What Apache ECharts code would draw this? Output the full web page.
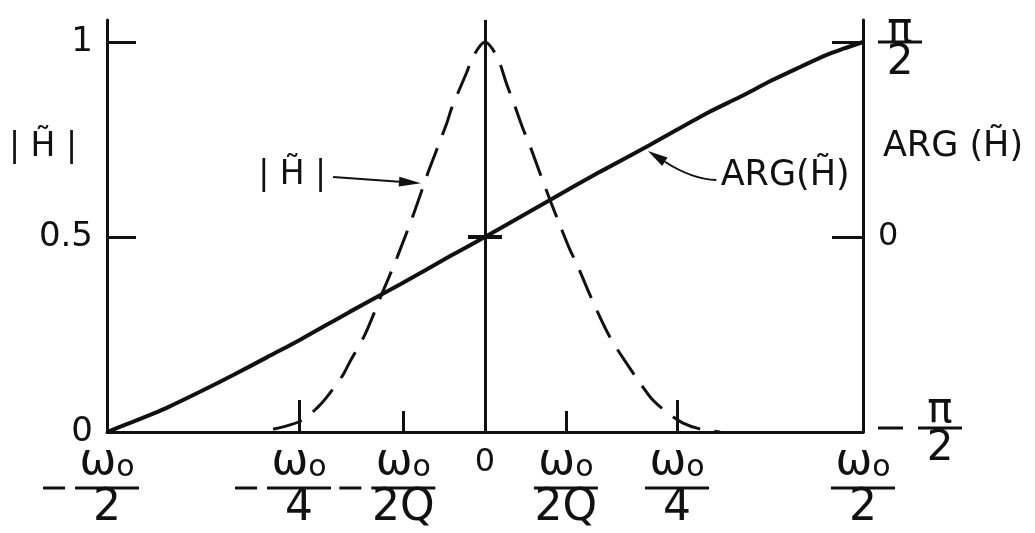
<!DOCTYPE html>
<html>
<head>
<meta charset="utf-8">
<script src="https://cdn.jsdelivr.net/npm/echarts@6/dist/echarts.min.js"></script>
<style>
  html, body { margin: 0; padding: 0; background: #ffffff; }
  #chart { width: 1035px; height: 533px; }
</style>
</head>
<body>
<div id="chart"></div>
<script>
// Frequency offset in units of ω0: the axis runs from -ω0/2 to +ω0/2.
const magFreq = [-0.298, -0.267, -0.241, -0.222, -0.209, -0.188, -0.179, -0.159, -0.136, -0.116,
  -0.095, -0.075, -0.066, -0.050, -0.044, -0.024, -0.016, 0, 0.016, 0.029, 0.040, 0.050, 0.060,
  0.073, 0.086, 0.099, 0.112, 0.122, 0.143, 0.165, 0.188, 0.205, 0.222, 0.245, 0.262, 0.284, 0.311];
// |H~| (dashed)
const magValues = [0.000, 0.013, 0.031, 0.062, 0.090, 0.146, 0.179, 0.249, 0.356, 0.449,
  0.556, 0.667, 0.713, 0.795, 0.831, 0.923, 0.962, 1.000, 0.962, 0.890, 0.833, 0.779, 0.731,
  0.662, 0.595, 0.531, 0.469, 0.428, 0.333, 0.244, 0.174, 0.126, 0.082, 0.044, 0.023, 0.008, 0.000];

const argFreq = [-0.500, -0.483, -0.466, -0.443, -0.421, -0.377, -0.333, -0.288, -0.245, -0.179,
  -0.112, -0.046, 0, 0.086, 0.152, 0.218, 0.294, 0.337, 0.381, 0.417, 0.452, 0.476, 0.500];
// ARG(H~) in units of π (solid)
const argValues = [-0.500, -0.487, -0.474, -0.456, -0.438, -0.397, -0.354, -0.308, -0.264, -0.192,
  -0.121, -0.049, 0, 0.095, 0.167, 0.236, 0.318, 0.359, 0.403, 0.436, 0.467, 0.484, 0.500];

// Frequency axis labels and tick marks
const xTickValues = [-0.5, -0.246, -0.108, 0, 0.107, 0.254, 0.5];
const xTickLabels = ['-ω0/2', '-ω0/4', '-ω0/2Q', '0', 'ω0/2Q', 'ω0/4', 'ω0/2'];
const longTickValues = [-0.246, 0.254];
const shortTickValues = [-0.108, 0.107];

// Left axis |H~|
const magTickValues = [0, 0.5, 1];
const magTickLabels = ['0', '0.5', '1'];
const magInnerTicks = [0.5, 1];

// Right axis ARG(H~), in units of π
const argTickValues = [-0.5, 0, 0.5];
const argTickLabels = ['-π/2', '0', 'π/2'];
const argInnerTicks = [0, 0.5];

const ink = '#111111';
const fam = '"DejaVu Sans", sans-serif';
const magMax = 1.0564;
const dashPattern = [30, 14];

function pick(values, labels, v) {
  let best = 0;
  values.forEach((t, i) => { if (Math.abs(t - v) < Math.abs(values[best] - v)) best = i; });
  return labels[best];
}

// Stacked fraction "ω0 over n", with an optional leading minus sign
function freqLabel(v) {
  const label = pick(xTickValues, xTickLabels, v);
  if (label === '0') return '{z|0}';
  const neg = label[0] === '-';
  const den = (neg ? label.slice(1) : label).split('/')[1];
  const mid = neg ? '{mn|}{sp|}{bar|}{sp|}{mg|}' : '{bar|}';
  return '{w|ω}{o|o}\n' + mid + '\n{d|' + den + '}';
}

function argLabel(v) {
  const label = pick(argTickValues, argTickLabels, v);
  if (label === '0') return '{z|0}';
  if (label[0] === '-') return '{pg|}{pnb|π}\n{mn|}{sp|}{bar|}\n{pg|}{pd|2}';
  return '{gap|}\n{pn|π}\n{bar|}\n{pd|2}';
}

const xRich = {
  w: { fontSize: 44, lineHeight: 44, fontFamily: fam, color: ink, align: 'center' },
  o: { fontSize: 30, lineHeight: 30, height: 34, verticalAlign: 'bottom', fontFamily: fam, color: ink, align: 'center' },
  bar: { width: 64, height: 3, lineHeight: 6, backgroundColor: ink, align: 'center' },
  mn: { width: 22, height: 3, lineHeight: 6, backgroundColor: ink, align: 'center' },
  sp: { width: 10, height: 3, lineHeight: 6, align: 'center' },
  mg: { width: 22, height: 3, lineHeight: 6, align: 'center' },
  d: { fontSize: 44, lineHeight: 36, fontFamily: fam, color: ink, align: 'center' },
  z: { fontSize: 32, lineHeight: 44, fontFamily: fam, color: ink, align: 'center' }
};

const rRich = {
  gap: { width: 44, height: 2, lineHeight: 20, align: 'center' },
  pn: { fontSize: 42, lineHeight: 16, width: 44, fontFamily: fam, color: ink, align: 'center' },
  pnb: { fontSize: 42, lineHeight: 28, width: 44, fontFamily: fam, color: ink, align: 'center' },
  pd: { fontSize: 42, lineHeight: 36, width: 44, fontFamily: fam, color: ink, align: 'center' },
  pg: { width: 40, height: 3, lineHeight: 6, align: 'center' },
  bar: { width: 44, height: 3, lineHeight: 6, backgroundColor: ink, align: 'center' },
  mn: { width: 25, height: 3, lineHeight: 6, backgroundColor: ink, align: 'center' },
  sp: { width: 15, height: 3, lineHeight: 6, align: 'center' },
  z: { fontSize: 32, lineHeight: 36, fontFamily: fam, color: ink, align: 'center' }
};

const axisLineStyle = { color: ink, width: 3 };

const chart = echarts.init(document.getElementById('chart'), null, { renderer: 'canvas' });

chart.setOption({
  backgroundColor: '#ffffff',
  animation: false,
  grid: { left: 107, right: 172, top: 20, bottom: 101, containLabel: false, outerBoundsMode: 'none' },
  xAxis: [
    {
      type: 'value', min: -0.5, max: 0.5, position: 'bottom',
      splitLine: { show: false },
      axisLine: { show: true, onZero: false, lineStyle: axisLineStyle },
      axisTick: { show: true, inside: true, length: 32, customValues: longTickValues, lineStyle: axisLineStyle },
      axisLabel: {
        show: true, customValues: xTickValues, margin: 9, color: ink,
        showMinLabel: true, showMaxLabel: true,
        formatter: freqLabel, rich: xRich
      }
    },
    {
      type: 'value', min: -0.5, max: 0.5, position: 'bottom',
      splitLine: { show: false },
      axisLine: { show: false, onZero: false },
      axisTick: { show: true, inside: true, length: 21, customValues: shortTickValues, lineStyle: axisLineStyle },
      axisLabel: { show: false }
    }
  ],
  yAxis: [
    {
      type: 'value', min: 0, max: magMax, position: 'left',
      splitLine: { show: false },
      axisLine: { show: true, onZero: false, lineStyle: axisLineStyle },
      axisTick: { show: true, inside: true, length: 29, customValues: magInnerTicks, lineStyle: axisLineStyle },
      axisLabel: {
        show: true, customValues: magTickValues, margin: 14, color: ink,
        fontSize: 34, fontFamily: fam, showMinLabel: true, showMaxLabel: true,
        formatter: v => pick(magTickValues, magTickLabels, v)
      }
    },
    {
      type: 'value', min: -0.5, max: -0.5 + magMax, position: 'right',
      splitLine: { show: false },
      axisLine: { show: true, onZero: false, lineStyle: axisLineStyle },
      axisTick: { show: true, inside: true, length: 31, customValues: argInnerTicks, lineStyle: axisLineStyle },
      axisLabel: {
        show: true, customValues: argTickValues, margin: 15, color: ink,
        showMinLabel: true, showMaxLabel: true,
        formatter: argLabel, rich: rRich
      }
    }
  ],
  series: [
    {
      name: '|H|', type: 'line', xAxisIndex: 0, yAxisIndex: 0,
      data: magFreq.map((f, i) => [f, magValues[i]]),
      showSymbol: false, smooth: 0.3, z: 2,
      lineStyle: { color: ink, width: 3, type: dashPattern, cap: 'butt' },
      markLine: {
        silent: true, animation: false,
        symbol: ['none', 'none'],
        label: { show: false },
        lineStyle: { type: 'solid', color: ink, width: 3 },
        data: [
          // zero-frequency line
          { xAxis: 0 },
          // cross mark at |H| = 0.5
          [{ coord: [-0.0225, 0.5], lineStyle: { width: 4 } }, { coord: [0.0225, 0.5], lineStyle: { width: 4 } }],
          // pointer to the magnitude curve
          [
            { coord: [-0.201, 0.654], symbol: 'none', lineStyle: { width: 2 } },
            { coord: [-0.0992, 0.640], symbol: 'triangle', symbolSize: [10, 22], lineStyle: { width: 2 } }
          ]
        ]
      }
    },
    {
      name: 'ARG', type: 'line', xAxisIndex: 0, yAxisIndex: 1,
      data: argFreq.map((f, i) => [f, argValues[i]]),
      showSymbol: false, smooth: 0.3, z: 3,
      lineStyle: { color: ink, width: 4 }
    }
  ]
});

// Phase the dash pattern so that a dash sits across the peak of |H|
(function centerDashOnPeak() {
  const peak = magValues.indexOf(Math.max.apply(null, magValues));
  let len = 0;
  let prev = chart.convertToPixel({ seriesIndex: 0 }, [magFreq[0], magValues[0]]);
  for (let i = 1; i <= peak; i++) {
    const p = chart.convertToPixel({ seriesIndex: 0 }, [magFreq[i], magValues[i]]);
    len += Math.hypot(p[0] - prev[0], p[1] - prev[1]);
    prev = p;
  }
  const period = dashPattern[0] + dashPattern[1];
  const offset = (((dashPattern[0] / 2 - len) % period) + period) % period;
  chart.setOption({ series: [{ lineStyle: { dashOffset: offset } }] });
})();

// Curve annotations, anchored in data space
const toPx = pt => chart.convertToPixel({ xAxisIndex: 0, yAxisIndex: 0 }, pt);
const magNote = toPx([-0.255, 0.659]);
const argNote = toPx([0.397, 0.656]);

function textEl(text, x, y, size) {
  return {
    type: 'text', x: x, y: y, silent: true,
    style: { text: text, fill: ink, fontSize: size, fontFamily: fam, textAlign: 'center', textVerticalAlign: 'middle' }
  };
}

// Curved pointer from the ARG label to the phase curve: leaves the label heading left,
// bends upward and ends in a filled arrowhead on the curve.
function curvedArrow(fromPt, tipPt, aimPt, headLen, headWidth, bend) {
  const s = toPx(fromPt), t = toPx(tipPt), a = toPx(aimPt);
  let dx = t[0] - a[0], dy = t[1] - a[1];
  const n = Math.hypot(dx, dy); dx /= n; dy /= n;
  const b = [t[0] - dx * headLen, t[1] - dy * headLen];
  const c = [b[0] - dx * bend, b[1] - dy * bend];
  const px = -dy * headWidth / 2, py = dx * headWidth / 2;
  return [
    {
      type: 'bezierCurve', silent: true,
      shape: { x1: s[0], y1: s[1], x2: b[0], y2: b[1], cpx1: c[0], cpy1: c[1] },
      style: { stroke: ink, lineWidth: 2, fill: null }
    },
    {
      type: 'polygon', silent: true,
      shape: { points: [t, [b[0] + px, b[1] + py], [b[0] - px, b[1] - py]] },
      style: { fill: ink, stroke: null }
    }
  ];
}

chart.setOption({
  graphic: [
    textEl('| H\u0303 |', 43, 147, 33),
    textEl('ARG (H\u0303)', 953, 147, 35),
    textEl('| H\u0303 |', magNote[0], magNote[1], 33),
    textEl('ARG(H\u0303)', argNote[0], argNote[1], 35)
  ].concat(curvedArrow([0.306, 0.646], [0.2156, 0.7205], [0.2487, 0.6795], 20, 10, 33))
});
</script>
</body>
</html>
